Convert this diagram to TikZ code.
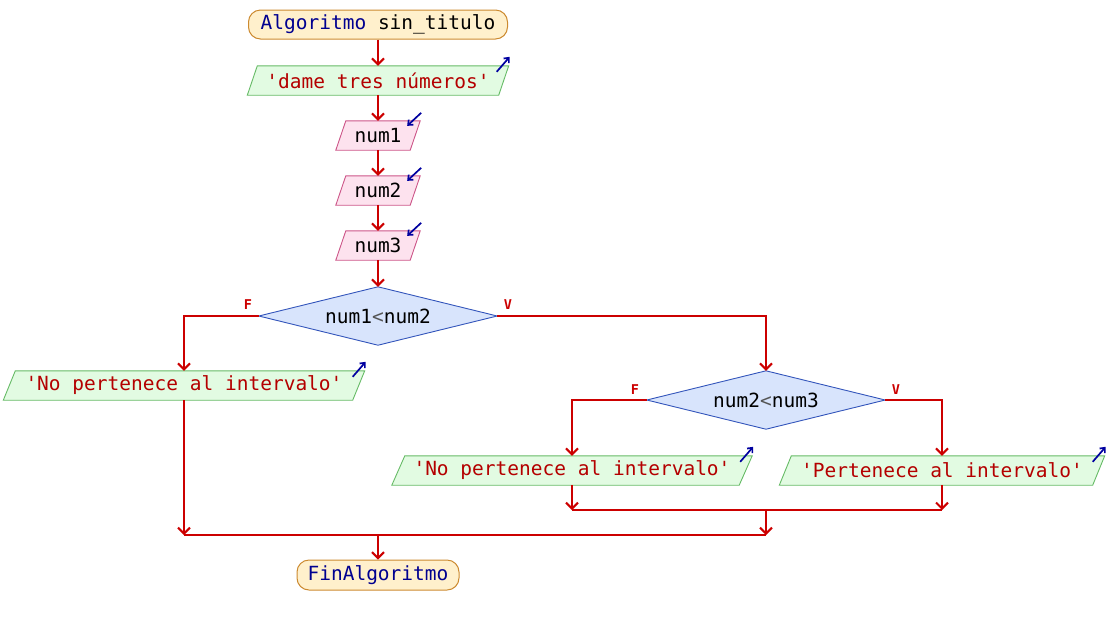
\documentclass[tikz,border=0pt]{standalone}
\usepackage{fontspec}
\setmonofont{DejaVu Sans Mono}
\usetikzlibrary{arrows.meta,backgrounds,calc}
\definecolor{flow}{HTML}{CC0000}
\definecolor{strc}{HTML}{B40000}
\definecolor{kw}{HTML}{000090}
\definecolor{icon}{HTML}{0000A0}
\definecolor{termf}{HTML}{FFF0CC}
\definecolor{termd}{HTML}{CC8A30}
\definecolor{outf}{HTML}{E2FBE2}
\definecolor{outd}{HTML}{66BB66}
\definecolor{inf}{HTML}{FDE2EE}
\definecolor{ind}{HTML}{CC5588}
\definecolor{decf}{HTML}{D8E4FC}
\definecolor{decd}{HTML}{3355BB}
\definecolor{ltc}{HTML}{555555}
\newcommand\pgram[3]{%
  \begin{scope}[on background layer]
  \path[#3] ([xshift=#2]#1.north west) -- ([xshift=#2]#1.north east)
    -- ([xshift=-#2]#1.south east) -- ([xshift=-#2]#1.south west) -- cycle;
  \end{scope}}
\newcommand\outicon[2]{%
  \draw[iconline] ($([xshift=#2]#1.north east)+(-12,6)$) -- ++(13,-15);}
\newcommand\inicon[2]{%
  \draw[iconline] ($([xshift=#2]#1.north east)+(1,-8)$) -- ++(-14,13);}
\newcommand\dmd[1]{%
  \begin{scope}[on background layer]
  \path[fill=decf,draw=decd,line width=0.9] (#1.west) -- (#1.north) -- (#1.east) -- (#1.south) -- cycle;
  \end{scope}}
\begin{document}
\begin{tikzpicture}[x=1pt,y=-1pt,
  base/.style={font=\ttfamily\fontsize{19.5}{22}\selectfont, inner sep=0pt, minimum height=29},
  term/.style={base, draw=termd, fill=termf, rounded corners=12, line width=1},
  box/.style={base},
  outshape/.style={fill=outf, draw=outd, line width=0.9},
  inshape/.style={fill=inf, draw=ind, line width=0.9},
  flowline/.style={draw=flow, line width=2},
  arr/.style={flowline, -{Straight Barb[length=6,width=12]}},
  iconline/.style={draw=icon, line width=1.7, -{Straight Barb[length=4,width=7]}},
  lbl/.style={text=flow, font=\ttfamily\bfseries\fontsize{13.5}{15}\selectfont, inner sep=0pt}
]
\useasboundingbox (0,0) rectangle (1108,625);

\node[term, minimum width=259] (start) at (378,24.5) {{\color{kw}Algoritmo} sin\_titulo};
\node[box, minimum width=251] (dame) at (378,80.5) {\color{strc}'dame tres números'};
\pgram{dame}{5}{outshape}
\node[box, minimum width=74] (n1) at (378,135.5) {num1};
\pgram{n1}{5}{inshape}
\node[box, minimum width=74] (n2) at (378,190.5) {num2};
\pgram{n2}{5}{inshape}
\node[box, minimum width=74] (n3) at (378,245.5) {num3};
\pgram{n3}{5}{inshape}
\node[box, minimum width=238, minimum height=58] (d1) at (378,316) {num1{\color{ltc}<}num2};
\dmd{d1}
\node[box, minimum width=349] (no1) at (184,385.5) {\color{strc}'No pertenece al intervalo'};
\pgram{no1}{6}{outshape}
\node[box, minimum width=238, minimum height=58] (d2) at (766,400) {num2{\color{ltc}<}num3};
\dmd{d2}
\node[box, minimum width=347] (no2) at (572,470.5) {\color{strc}'No pertenece al intervalo'};
\pgram{no2}{6.5}{outshape}
\node[box, minimum width=313] (per) at (942,470.5) {\color{strc}'Pertenece al intervalo'};
\pgram{per}{6}{outshape}
\node[term, minimum width=162, minimum height=30] (fin) at (378,575) {\color{kw}FinAlgoritmo};

\outicon{dame}{5}
\inicon{n1}{5}
\inicon{n2}{5}
\inicon{n3}{5}
\outicon{no1}{6}
\outicon{no2}{6.5}
\outicon{per}{6}

\node[lbl] (f1) at (248,305) {F};
\node[lbl] (v1) at (508,305) {V};
\node[lbl] (f2) at (635,390) {F};
\node[lbl] (v2) at (896,390) {V};

\coordinate (j2l) at (572,510);
\coordinate (j2r) at (942,510);
\coordinate (j2c) at (766,510);
\coordinate (j1l) at (184,535);
\coordinate (j1r) at (766,535);
\coordinate (j1c) at (378,535);

\draw[arr] (start) -- (dame);
\draw[arr] (dame) -- (n1);
\draw[arr] (n1) -- (n2);
\draw[arr] (n2) -- (n3);
\draw[arr] (n3) -- (d1.north);
\draw[arr] (d1.west) -| (no1.north);
\draw[arr] (d1.east) -| (d2.north);
\draw[arr] (d2.west) -| (no2.north);
\draw[arr] (d2.east) -| (per.north);
\draw[arr] (no2.south) -- (j2l);
\draw[arr] (per.south) -- (j2r);
\draw[flowline] (j2l) -- (j2r);
\draw[arr] (j2c) -- (j1r);
\draw[arr] (no1.south) -- (j1l);
\draw[flowline] (j1l) -- (j1r);
\draw[arr] (j1c) -- (fin.north);
\end{tikzpicture}
\end{document}
